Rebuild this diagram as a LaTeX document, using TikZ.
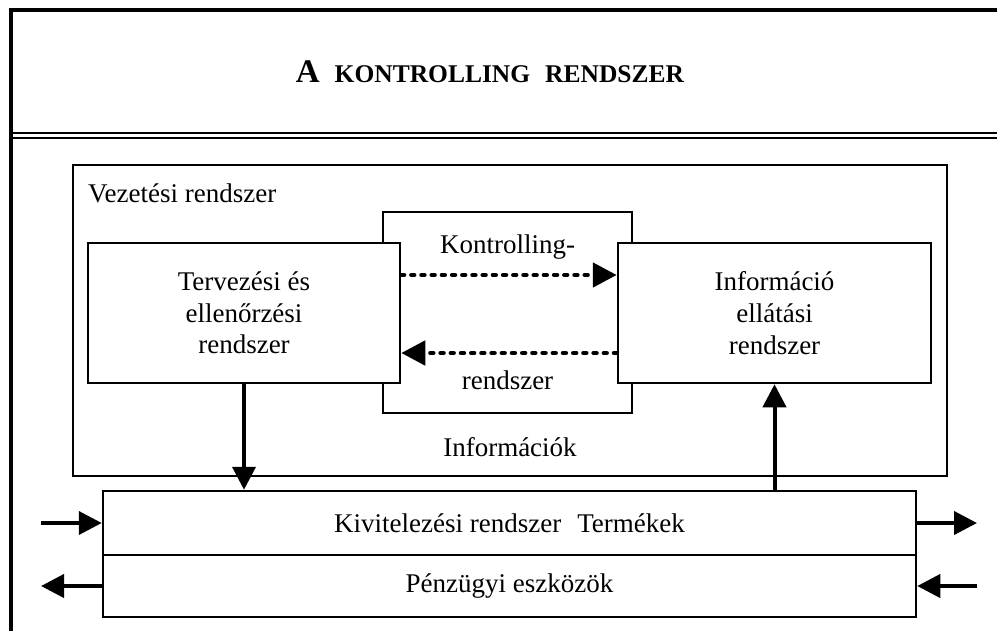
\documentclass[tikz,border=0pt]{standalone}
\usepackage{fontspec}
\setmainfont{Liberation Serif}
\usetikzlibrary{arrows.meta}

\tikzset{
  box/.style={draw, line width=2.5pt, fill=white, inner sep=0pt, align=center,
    font=\fontsize{27}{31.7}\selectfont},
  label/.style={inner sep=0pt, font=\fontsize{27}{31.7}\selectfont},
  flow/.style={line width=4pt, -{Triangle[length=23pt,width=23pt]}},
  dotflow/.style={line width=4.8pt, line cap=round, dash pattern=on 2.6pt off 7.6pt,
    -{Triangle[length=24pt,width=24pt]}},
  frame/.style={line width=4.5pt},
  rule/.style={line width=2pt}
}

\begin{document}
\begin{tikzpicture}[x=1pt,y=-1pt]
  \useasboundingbox (0,0) rectangle (997,630);

  % outer frame (top and left edges) and the double rule under the title
  \draw[frame] (11,640) -- (11,10) -- (1005,10);
  \draw[rule] (11,133) -- (1005,133);
  \draw[rule] (11,138) -- (1005,138);

  \node[anchor=base, inner sep=0pt] (title) at (490,82)
    {\bfseries\fontsize{33}{36}\selectfont A\hspace{15pt}\fontsize{25.5}{30}\selectfont KONTROLLING\hspace{15pt}RENDSZER};

  % management system
  \node[box, minimum width=874pt, minimum height=311pt] (mgmt) at (510,320.5) {};
  \node[label, anchor=base west] (mgmtlbl) at (88,202) {Vezetési rendszer};

  % controlling subsystem, behind the two side boxes
  \node[box, minimum width=249pt, minimum height=201pt] (ctrl) at (507.5,312.5) {};
  \node[label] (ctrltop) at (507.5,247) {Kontrolling-};
  \node[label] (ctrlbot) at (507.5,380) {rendszer};

  \node[box, minimum width=312pt, minimum height=140pt] (plan) at (244,313)
    {Tervezési és\\ellenőrzési\\rendszer};
  \node[box, minimum width=313pt, minimum height=140pt] (info) at (774.5,313)
    {Információ\\ellátási\\rendszer};

  \node[label] (infos) at (510,447) {Információk};

  % execution system and finances
  \node[box, minimum width=813pt, minimum height=64pt] (exec) at (509.5,523)
    {Kivitelezési rendszer\hspace{16pt}Termékek};
  \node[box, minimum width=813pt, minimum height=62pt] (fin) at (509.5,586)
    {Pénzügyi eszközök};

  % dotted information flows
  \draw[dotflow] ([yshift=38pt]plan.east) -- ([yshift=38pt]info.west);
  \draw[dotflow] ([yshift=-40pt]info.west) -- ([yshift=-40pt]plan.east);

  % vertical flows
  \draw[flow] (plan.south) -- (plan.south |- exec.north);
  \draw[flow] (exec.north -| info.south) -- (info.south);

  % external inputs and outputs
  \coordinate (inL) at (41,523);
  \coordinate (outL) at (41,586);
  \coordinate (outR) at (977,523);
  \coordinate (inR) at (977,586);
  \draw[flow] (inL) -- (inL -| exec.west);
  \draw[flow] (outL -| fin.west) -- (outL);
  \draw[flow] (outR -| exec.east) -- (outR);
  \draw[flow] (inR) -- (inR -| fin.east);
\end{tikzpicture}
\end{document}
